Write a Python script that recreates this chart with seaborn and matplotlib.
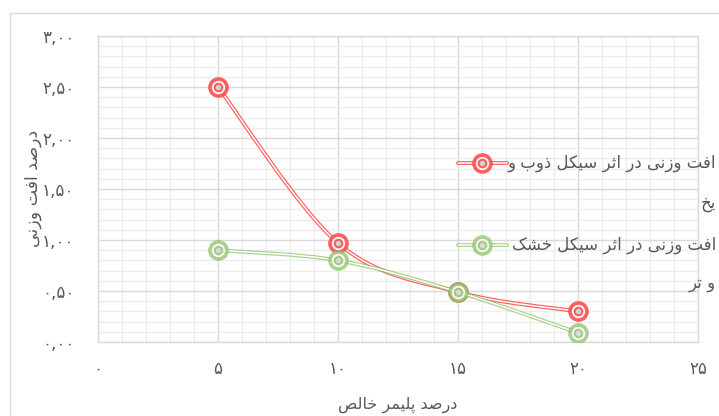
import matplotlib
matplotlib.use('Agg')
import matplotlib.pyplot as plt
from matplotlib.path import Path
from matplotlib.patches import PathPatch
from matplotlib.lines import Line2D
from matplotlib.ticker import MultipleLocator
import pandas as pd
import seaborn as sns

# data
polymer_pct = [5, 10, 15, 20]
loss_freeze_thaw = [2.50, 0.97, 0.49, 0.30]
loss_wet_dry = [0.90, 0.80, 0.49, 0.09]

series_names = ['افت وزنی در اثر سیکل ذوب و\nیخ', 'افت وزنی در اثر سیکل خشک\nو تر']
series_colors = ['#FF4D4D', '#8CC26A']

x_ticks = [0, 5, 10, 15, 20, 25]
x_tick_labels = ['۰', '۵', '۱۰', '۱۵', '۲۰', '۲۵']
y_ticks = [0, 0.5, 1, 1.5, 2, 2.5, 3]
y_tick_labels = ['۰,۰۰', '۰,۵۰', '۱,۰۰', '۱,۵۰', '۲,۰۰', '۲,۵۰', '۳,۰۰']
x_title = 'درصد پلیمر خالص'
y_title = 'درصد افت وزنی'

# arabic presentation forms: isolated, final, initial, medial
FORMS = {
    'ا': ('\uFE8D', '\uFE8E', None, None),
    'ب': ('\uFE8F', '\uFE90', '\uFE91', '\uFE92'),
    'پ': ('\uFB56', '\uFB57', '\uFB58', '\uFB59'),
    'ت': ('\uFE95', '\uFE96', '\uFE97', '\uFE98'),
    'ث': ('\uFE99', '\uFE9A', '\uFE9B', '\uFE9C'),
    'خ': ('\uFEA5', '\uFEA6', '\uFEA7', '\uFEA8'),
    'د': ('\uFEA9', '\uFEAA', None, None),
    'ذ': ('\uFEAB', '\uFEAC', None, None),
    'ر': ('\uFEAD', '\uFEAE', None, None),
    'ز': ('\uFEAF', '\uFEB0', None, None),
    'س': ('\uFEB1', '\uFEB2', '\uFEB3', '\uFEB4'),
    'ش': ('\uFEB5', '\uFEB6', '\uFEB7', '\uFEB8'),
    'ص': ('\uFEB9', '\uFEBA', '\uFEBB', '\uFEBC'),
    'ف': ('\uFED1', '\uFED2', '\uFED3', '\uFED4'),
    'ک': ('\uFB8E', '\uFB8F', '\uFB90', '\uFB91'),
    'ل': ('\uFEDD', '\uFEDE', '\uFEDF', '\uFEE0'),
    'م': ('\uFEE1', '\uFEE2', '\uFEE3', '\uFEE4'),
    'ن': ('\uFEE5', '\uFEE6', '\uFEE7', '\uFEE8'),
    'و': ('\uFEED', '\uFEEE', None, None),
    'ی': ('\uFBFC', '\uFBFD', '\uFBFE', '\uFBFF'),
}


def shape(text):
    # join letters and flip to visual order, line by line
    lines = []
    for line in text.split('\n'):
        res = []
        for i, c in enumerate(line):
            if c not in FORMS:
                res.append(c)
                continue
            f = FORMS[c]
            prev = line[i - 1] if i > 0 else None
            nxt = line[i + 1] if i + 1 < len(line) else None
            jp = prev in FORMS and FORMS[prev][2] is not None
            jn = f[2] is not None and nxt in FORMS
            if jp and jn:
                res.append(f[3])
            elif jp:
                res.append(f[1])
            elif jn:
                res.append(f[2])
            else:
                res.append(f[0])
        lines.append(''.join(reversed(res)))
    return lines


def smooth_path(xs, ys):
    # excel-like smoothed line (catmull-rom as cubic bezier)
    pts = list(zip(xs, ys))
    verts = [pts[0]]
    codes = [Path.MOVETO]
    for i in range(len(pts) - 1):
        p0 = pts[i - 1] if i > 0 else pts[i]
        p1, p2 = pts[i], pts[i + 1]
        p3 = pts[i + 2] if i + 2 < len(pts) else pts[i + 1]
        c1 = (p1[0] + (p2[0] - p0[0]) / 6, p1[1] + (p2[1] - p0[1]) / 6)
        c2 = (p2[0] - (p3[0] - p1[0]) / 6, p2[1] - (p3[1] - p1[1]) / 6)
        verts += [c1, c2, p2]
        codes += [Path.CURVE4] * 3
    return Path(verts, codes)


sns.set_style('white')
plt.rcParams['font.family'] = ['DejaVu Sans']
TEXT = '#595959'
W, H = 719, 416

fig = plt.figure(figsize=(W / 100, H / 100), dpi=100)
ax = fig.add_axes([98 / W, 1 - 342 / H, 600 / W, 306 / H])

df = pd.DataFrame({
    'pct': polymer_pct * 2,
    'loss': loss_freeze_thaw + loss_wet_dry,
    'series': [series_names[0]] * 4 + [series_names[1]] * 4,
})

alphas = [0.9, 0.75]
for k, name in enumerate(series_names):
    sub = df[df['series'] == name]
    col = series_colors[k]
    path = smooth_path(sub['pct'].tolist(), sub['loss'].tolist())
    ax.add_patch(PathPatch(path, fill=False, edgecolor=col, lw=2.8, zorder=3 + 2 * k, alpha=alphas[k]))
    ax.add_patch(PathPatch(path, fill=False, edgecolor='white', lw=1.1, zorder=3 + 2 * k))
    sns.scatterplot(data=sub, x='pct', y='loss', ax=ax, s=150, marker='o', color='white',
                    edgecolor=col, linewidth=2.6, alpha=alphas[k], zorder=4 + 2 * k, legend=False)
    sns.scatterplot(data=sub, x='pct', y='loss', ax=ax, s=30, marker='o', color='#d0d0d0',
                    edgecolor=col, linewidth=1.5, alpha=alphas[k], zorder=4 + 2 * k, legend=False)

ax.set_xlim(0, 25)
ax.set_ylim(0, 3)
ax.set_xticks(x_ticks)
ax.set_xticklabels(x_tick_labels)
ax.set_yticks(y_ticks)
ax.set_yticklabels(y_tick_labels)
ax.xaxis.set_minor_locator(MultipleLocator(1))
ax.yaxis.set_minor_locator(MultipleLocator(0.1))
ax.grid(which='major', color='#D9D9D9', lw=1.0)
ax.grid(which='minor', color='#EDEDED', lw=1.0)
ax.set_axisbelow(True)
ax.tick_params(which='both', length=0, colors=TEXT, labelsize=12)
ax.tick_params(axis='x', pad=13)
ax.tick_params(axis='y', pad=17)
for s in ax.spines.values():
    s.set_color('#D9D9D9')
    s.set_linewidth(1.0)
ax.set_xlabel('')
ax.set_ylabel('')

fig.text(398 / W, 1 - 405 / H, shape(x_title)[0], ha='center', va='center', color=TEXT, fontsize=11.5)
fig.text(33 / W, 1 - 188 / H, shape(y_title)[0], ha='center', va='center', rotation=90,
         color=TEXT, fontsize=12.5)

# legend drawn by hand, right aligned persian text
leg_rows = [(163, 203), (245, 283)]
for k, name in enumerate(series_names):
    y1, y2 = leg_rows[k]
    col = series_colors[k]
    yy = 1 - y1 / H
    fig.add_artist(Line2D([458 / W, 507 / W], [yy, yy], color=col, lw=2.8, alpha=alphas[k]))
    fig.add_artist(Line2D([458 / W, 507 / W], [yy, yy], color='white', lw=1.1))
    fig.add_artist(Line2D([482 / W], [yy], marker='o', ms=12.2, mfc='white', mec=col, mew=2.6,
                          alpha=alphas[k], ls='none'))
    fig.add_artist(Line2D([482 / W], [yy], marker='o', ms=5.5, mfc='#d0d0d0', mec=col, mew=1.5,
                          alpha=alphas[k], ls='none'))
    lines = shape(name)
    fig.text(716 / W, yy, lines[0], ha='right', va='center', color=TEXT, fontsize=12)
    fig.text(716 / W, 1 - y2 / H, lines[1], ha='right', va='center', color=TEXT, fontsize=12)

# chart area border (top and left edge visible)
fig.add_artist(Line2D([10 / W, 10 / W], [0, 1 - 13 / H], color='#D9D9D9', lw=1.0))
fig.add_artist(Line2D([10 / W, 1], [1 - 13 / H, 1 - 13 / H], color='#D9D9D9', lw=1.0))

fig.savefig('out.png', dpi=100)
